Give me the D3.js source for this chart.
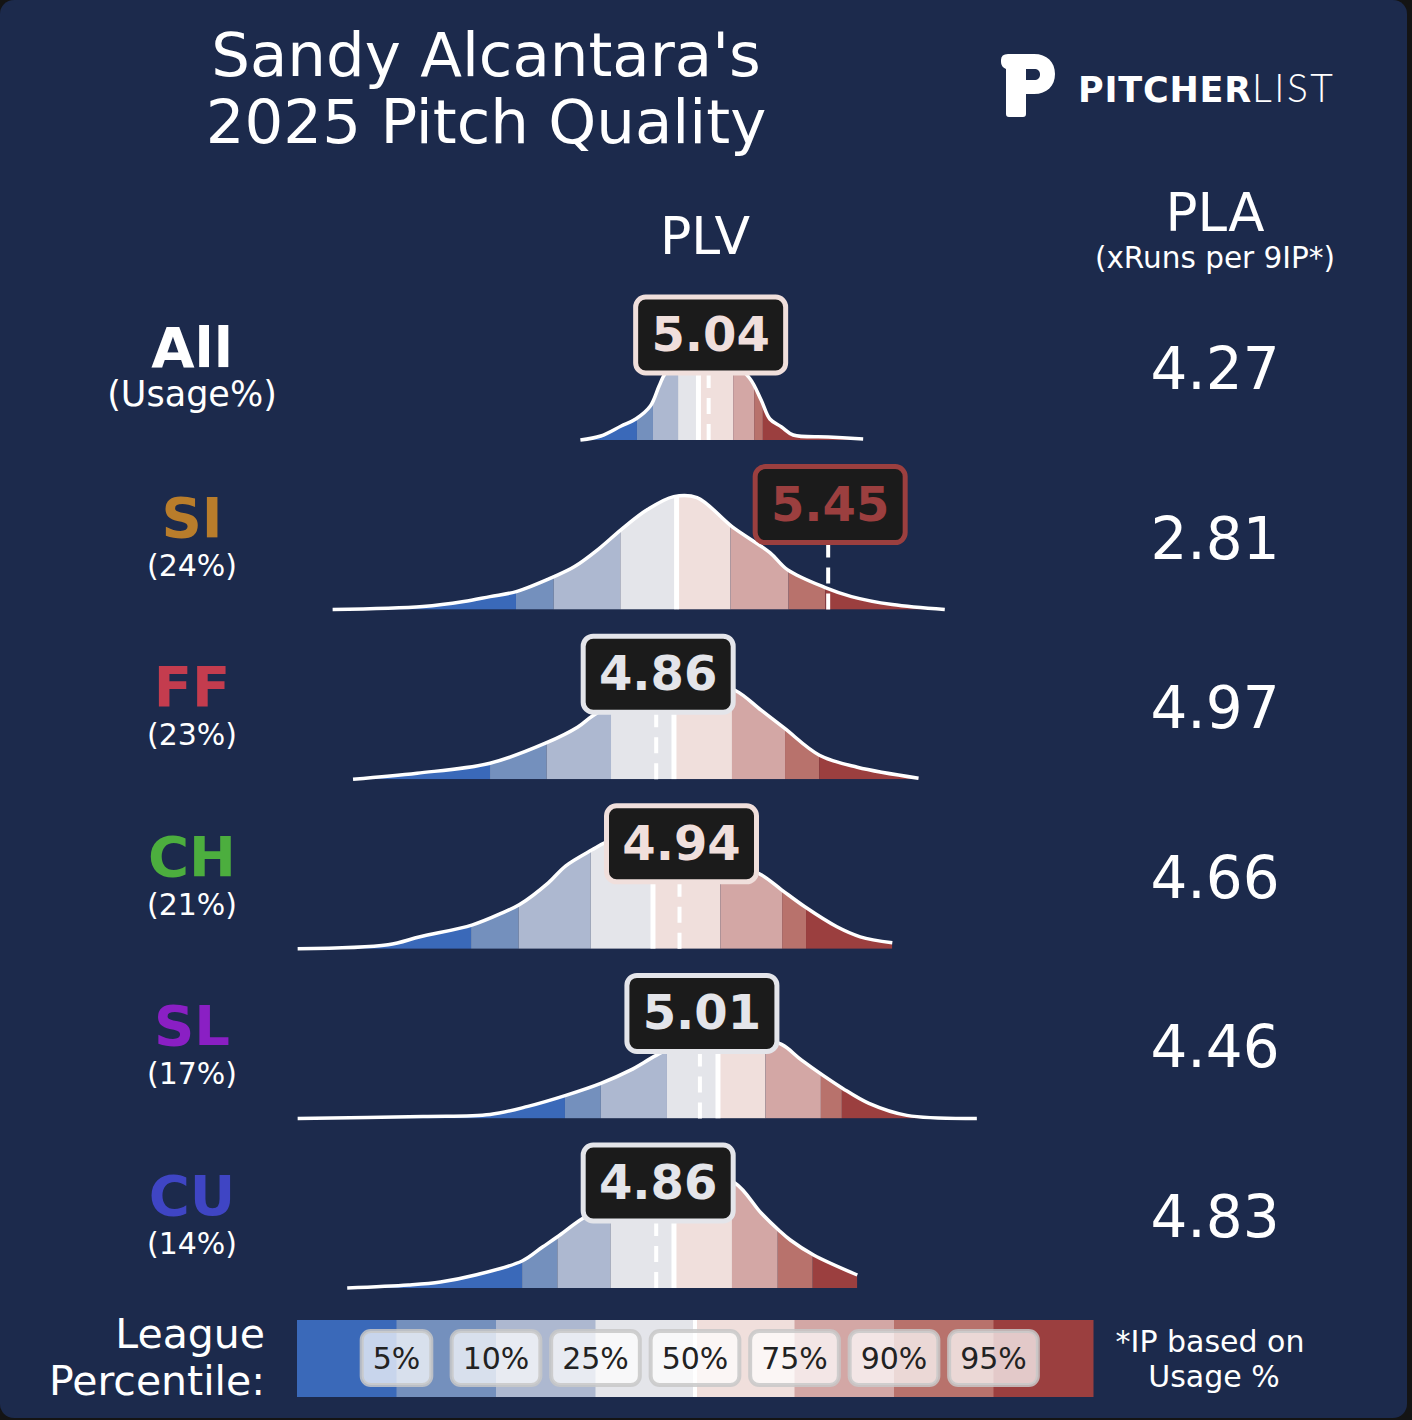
<!DOCTYPE html>
<html>
<head>
<meta charset="utf-8">
<script src="https://cdn.jsdelivr.net/npm/d3@7"></script>
<style>
  html, body { margin: 0; padding: 0; background: #141414; }
  svg { display: block; }
  text { font-family: "DejaVu Sans", sans-serif; }
</style>
</head>
<body>
<svg id="chart" width="1412" height="1420"></svg>
<script>
// pitch rows
const pitchTypes = ["All", "SI", "FF", "CH", "SL", "CU"];
const usageLabels = ["(Usage%)", "(24%)", "(23%)", "(21%)", "(17%)", "(14%)"];
const pitchColors = ["#ffffff", "#b97d2b", "#c43c4e", "#4cae3e", "#8a1fc4", "#3f45c4"];
const plvValues = [5.04, 5.45, 4.86, 4.94, 5.01, 4.86];
const plaValues = ["4.27", "2.81", "4.97", "4.66", "4.46", "4.83"];

// league percentile cut points (5,10,25,50,75,90,95) per row
const pctAll = [4.794, 4.849, 4.935, 5.005, 5.124, 5.196, 5.226];
const pctSI  = [4.379, 4.508, 4.737, 4.930, 5.115, 5.314, 5.440];
const pctFF  = [4.290, 4.484, 4.705, 4.921, 5.120, 5.302, 5.419];
const pctCH  = [4.225, 4.388, 4.635, 4.849, 5.080, 5.292, 5.374];
const pctSL  = [4.547, 4.670, 4.897, 5.072, 5.235, 5.425, 5.497];
const pctCU  = [4.400, 4.521, 4.703, 4.921, 5.120, 5.277, 5.397];

// league density curves [PLV, density]
const densAll = [[4.60,0.00],[4.67,0.04],[4.74,0.14],[4.79,0.21],[4.84,0.34],[4.87,0.54],[4.89,0.66],[4.95,0.82],[5.02,0.88],[5.10,0.82],[5.18,0.62],[5.22,0.40],[5.25,0.21],[5.29,0.13],[5.33,0.05],[5.45,0.03],[5.57,0.01]];
const densSI  = [[3.75,0.00],[4.06,0.03],[4.20,0.08],[4.29,0.13],[4.38,0.18],[4.51,0.33],[4.58,0.43],[4.66,0.60],[4.74,0.80],[4.83,1.00],[4.92,1.13],[5.00,1.12],[5.12,0.83],[5.25,0.57],[5.31,0.40],[5.44,0.22],[5.53,0.13],[5.67,0.05],[5.85,0.00]];
const densFF  = [[3.82,0.00],[4.04,0.06],[4.29,0.16],[4.48,0.36],[4.59,0.52],[4.64,0.63],[4.77,0.85],[4.91,0.98],[5.01,0.98],[5.13,0.89],[5.22,0.69],[5.30,0.51],[5.42,0.24],[5.55,0.12],[5.76,0.01]];
const densCH  = [[3.63,0.00],[3.94,0.04],[4.05,0.12],[4.23,0.24],[4.34,0.37],[4.39,0.44],[4.49,0.66],[4.55,0.83],[4.64,0.99],[4.69,1.07],[4.77,1.14],[4.87,1.12],[5.01,1.00],[5.11,0.88],[5.22,0.74],[5.29,0.59],[5.37,0.42],[5.48,0.22],[5.56,0.12],[5.67,0.06]];
const densSL  = [[3.63,0.00],[4.06,0.02],[4.29,0.04],[4.42,0.12],[4.55,0.23],[4.67,0.35],[4.77,0.48],[4.86,0.63],[4.98,0.80],[5.08,0.86],[5.18,0.83],[5.29,0.74],[5.36,0.58],[5.50,0.30],[5.59,0.15],[5.72,0.03],[5.96,0.00]];
const densCU  = [[3.80,0.00],[4.01,0.03],[4.12,0.06],[4.24,0.13],[4.40,0.27],[4.47,0.41],[4.52,0.51],[4.61,0.70],[4.74,0.90],[4.87,1.08],[5.01,1.15],[5.13,1.05],[5.22,0.75],[5.28,0.58],[5.32,0.48],[5.40,0.33],[5.55,0.13]];

const percentileLabels = ["5%", "10%", "25%", "50%", "75%", "90%", "95%"];
const bandColors = ["#3a69b9", "#7490bd", "#adb8d0", "#e4e5ea", "#f0dfdc", "#d3a7a5", "#b8726c", "#9b3f3f"];

const rowPcts = [pctAll, pctSI, pctFF, pctCH, pctSL, pctCU];
const rowDens = [densAll, densSI, densFF, densCH, densSL, densCU];

const svg = d3.select("#chart");

svg.append("rect")
  .attr("width", 1407).attr("height", 1418).attr("rx", 14)
  .attr("fill", "#1c2a4c");

const x = d3.scaleLinear().domain([4, 6]).range([405.5, 988.5]);
const rowY = d3.scalePoint().domain(pitchTypes).range([440, 1288]);
const h = d3.scaleLinear().domain([0, 1]).range([0, 100]);
const smooth = d3.curveCatmullRom.alpha(0.5);

// title + headers
svg.append("text").attr("x", 486).attr("y", 76).attr("text-anchor", "middle")
  .attr("font-size", 61).attr("fill", "#fff").text("Sandy Alcantara's");
svg.append("text").attr("x", 486).attr("y", 143).attr("text-anchor", "middle")
  .attr("font-size", 61).attr("fill", "#fff").text("2025 Pitch Quality");
svg.append("text").attr("x", 705).attr("y", 254).attr("text-anchor", "middle")
  .attr("font-size", 52).attr("fill", "#fff").text("PLV");
svg.append("text").attr("x", 1215).attr("y", 231).attr("text-anchor", "middle")
  .attr("font-size", 53).attr("fill", "#fff").text("PLA");
svg.append("text").attr("x", 1215).attr("y", 268).attr("text-anchor", "middle")
  .attr("font-size", 29.5).attr("fill", "#fff").text("(xRuns per 9IP*)");

// logo
const logo = svg.append("g").attr("transform", "translate(1000,54)");
logo.append("path")
  .attr("fill", "#fff").attr("fill-rule", "evenodd")
  .attr("d", "M1,6 Q1,0 8,0 L34,0 C47,0 55,8 55,20 C55,32 47,40 34,40 L26,40 L26,60 Q26,63 23,63 L9,63 Q6,63 6,60 L6,15 Q1,13 1,8 Z " +
             "M26,15 L34,15 C38,15 40,17 40,20.5 C40,24 38,26 34,26 L26,26 Z");
const logoText = svg.append("text").attr("x", 1078).attr("y", 102)
  .attr("font-size", 35).attr("fill", "#fff").attr("letter-spacing", 0.8);
logoText.append("tspan").attr("font-weight", "bold").text("PITCHER");
logoText.append("tspan").attr("font-family", "Lato, 'Open Sans', sans-serif")
  .attr("font-weight", 300).attr("font-size", 39).attr("letter-spacing", 2.5).text("LIST");

// rows
pitchTypes.forEach((name, i) => {
  const base = rowY(name);
  const dens = rowDens[i];
  const pcts = rowPcts[i];
  const g = svg.append("g");

  const area = d3.area()
    .x(d => x(d[0])).y0(base).y1(d => base - h(d[1]))
    .curve(smooth);
  const line = d3.line()
    .x(d => x(d[0])).y(d => base - h(d[1]))
    .curve(smooth);

  g.append("clipPath").attr("id", "clip-" + i)
    .append("path").attr("d", area(dens));

  const edges = [dens[0][0], ...pcts, dens[dens.length - 1][0]];
  const fills = g.append("g").attr("clip-path", `url(#clip-${i})`);
  fills.selectAll("rect").data(bandColors).join("rect")
    .attr("x", (c, k) => x(edges[k]))
    .attr("width", (c, k) => x(edges[k + 1]) - x(edges[k]))
    .attr("y", base - 200).attr("height", 200)
    .attr("fill", c => c);
  // league median
  fills.append("line")
    .attr("x1", x(pcts[3])).attr("x2", x(pcts[3]))
    .attr("y1", base).attr("y2", base - 200)
    .attr("stroke", "#fff").attr("stroke-width", 5);

  g.append("path").attr("d", line(dens))
    .attr("fill", "none").attr("stroke", "#fff").attr("stroke-width", 3.5)
    .attr("stroke-linejoin", "round");

  // pitcher value marker
  const vx = x(plvValues[i]);
  g.append("line")
    .attr("x1", vx).attr("x2", vx)
    .attr("y1", base).attr("y2", base - 66)
    .attr("stroke", "#fff").attr("stroke-width", 4)
    .attr("stroke-dasharray", "16,10");

  const col = d3.scaleThreshold().domain(pcts).range(bandColors)(plvValues[i]);
  g.append("rect")
    .attr("x", vx + 2 - 75).attr("y", base - 143)
    .attr("width", 150).attr("height", 76).attr("rx", 10)
    .attr("fill", "#1b1b1b").attr("stroke", col).attr("stroke-width", 5);
  g.append("text")
    .attr("x", vx + 2).attr("y", base - 89).attr("text-anchor", "middle")
    .attr("font-size", 48).attr("font-weight", "bold").attr("fill", col)
    .text(plvValues[i].toFixed(2));

  // left labels
  g.append("text")
    .attr("x", 192).attr("y", base - 73).attr("text-anchor", "middle")
    .attr("font-size", 56).attr("font-weight", "bold").attr("fill", pitchColors[i])
    .text(name);
  g.append("text")
    .attr("x", 192).attr("y", base - 34).attr("text-anchor", "middle")
    .attr("font-size", i === 0 ? 35 : 30).attr("fill", "#fff")
    .text(usageLabels[i]);

  // PLA
  g.append("text")
    .attr("x", 1215).attr("y", base - 51).attr("text-anchor", "middle")
    .attr("font-size", 58).attr("fill", "#fff")
    .text(plaValues[i]);
});

// legend
const lx = d3.scaleLinear().domain([0, bandColors.length]).range([297, 1093]);
const legend = svg.append("g");
legend.selectAll("rect.seg").data(bandColors).join("rect")
  .attr("class", "seg")
  .attr("x", (c, k) => lx(k)).attr("width", (c, k) => lx(k + 1) - lx(k) + 0.5)
  .attr("y", 1320).attr("height", 77)
  .attr("fill", c => c);
legend.append("line")
  .attr("x1", lx(4)).attr("x2", lx(4)).attr("y1", 1320).attr("y2", 1397)
  .attr("stroke", "#fff").attr("stroke-width", 4);

percentileLabels.forEach((lab, k) => {
  const cx = lx(k + 1);
  const lg = legend.append("g");
  const t = lg.append("text")
    .attr("x", cx).attr("y", 1369).attr("text-anchor", "middle")
    .attr("font-size", 30).attr("fill", "#222").text(lab);
  const w = t.node().getComputedTextLength() + 22;
  lg.insert("rect", "text")
    .attr("x", cx - w / 2).attr("y", 1331).attr("width", w).attr("height", 54)
    .attr("rx", 9)
    .attr("fill", "#fff").attr("fill-opacity", 0.72)
    .attr("stroke", "#c8c8c8").attr("stroke-opacity", 0.85).attr("stroke-width", 4);
});

svg.append("text").attr("x", 265).attr("y", 1348).attr("text-anchor", "end")
  .attr("font-size", 41).attr("fill", "#fff").text("League");
svg.append("text").attr("x", 265).attr("y", 1395).attr("text-anchor", "end")
  .attr("font-size", 41).attr("fill", "#fff").text("Percentile:");
svg.append("text").attr("x", 1210).attr("y", 1352).attr("text-anchor", "middle")
  .attr("font-size", 30).attr("fill", "#fff").text("*IP based on");
svg.append("text").attr("x", 1214).attr("y", 1387).attr("text-anchor", "middle")
  .attr("font-size", 30).attr("fill", "#fff").text("Usage %");
</script>
</body>
</html>
